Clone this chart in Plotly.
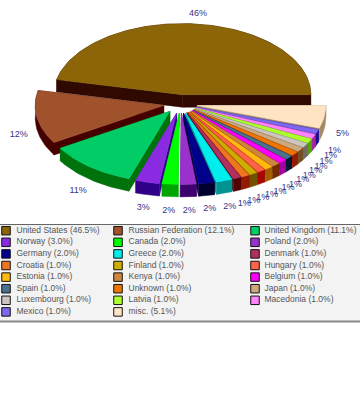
import math
import plotly.graph_objects as go

names = ["United States", "Russian Federation", "United Kingdom", "Norway", "Canada", "Poland",
         "Germany", "Greece", "Denmark", "Croatia", "Finland", "Hungary", "Estonia", "Kenya",
         "Belgium", "Spain", "Unknown", "Japan", "Luxembourg", "Latvia", "Macedonia", "Mexico", "misc."]
values = [46.5, 12.1, 11.1, 3.0, 2.0, 2.0, 2.0, 2.0, 1.0, 1.0, 1.0, 1.0, 1.0, 1.0,
          1.0, 1.0, 1.0, 1.0, 1.0, 1.0, 1.0, 1.0, 5.1]
colors = ["#8B6508", "#A0522D", "#00CD66", "#8A2BE2", "#00FF00", "#9932CC", "#00008B", "#00EEEE",
          "#B03060", "#EE7621", "#CDAD00", "#FF6347", "#FFB90F", "#CD853F", "#FF00FF", "#4A708B",
          "#EE7600", "#CDAA7D", "#CDC5BF", "#ADFF2F", "#FF83FA", "#7B68EE", "#FFE4C4"]

CX, CY, RX, RY, EXPLODE, DEPTH = 180.5, 104, 128.5, 71, 17, 12.5
LBL_RX, LBL_RY, LBL_DROP = 164, 91, 15.5


def darker(c):
    return "#" + "".join(f"{max(int(c[i:i+2], 16) - 91, 0):02X}" for i in (1, 3, 5))


total = sum(values)
slices, start = [], 0.0
for n, v, c in zip(names, values, colors):
    sweep = 360 * v / total
    slices.append((n, v, c, start, start + sweep))
    start += sweep

fig = go.Figure()


def poly(x, y, c, name=None):
    fig.add_trace(go.Scatter(x=x, y=y, mode="lines", fill="toself", fillcolor=c, name=name,
                             line=dict(width=0.5, color=c), showlegend=False,
                             hoverinfo="name" if name else "skip"))


for n, v, c, a0, a1 in sorted(slices, key=lambda s: -math.sin(math.radians((s[3] + s[4]) / 2))):
    mid = math.radians((a0 + a1) / 2)
    tx = CX + EXPLODE * math.cos(mid)
    ty = CY - EXPLODE * RY / RX * math.sin(mid)
    steps = max(2, int((a1 - a0) / 1.5))
    angs = [math.radians(a0 + (a1 - a0) * i / steps) for i in range(steps + 1)]
    ax = [tx + RX * math.cos(a) for a in angs]
    ay = [ty - RY * math.sin(a) for a in angs]
    wall = darker(c)
    for ex, ey in ((ax[0], ay[0]), (ax[-1], ay[-1])):
        poly([tx, ex, ex, tx, tx], [ty, ey, ey + DEPTH, ty + DEPTH, ty], wall)
    poly(ax + ax[::-1], ay + [y + DEPTH for y in ay[::-1]], wall)
    poly([tx] + ax + [tx], [ty] + ay + [ty], c, n)

# percentage labels around the pie
lx, ly, lt = [], [], []
for n, v, c, a0, a1 in slices:
    mid = math.radians((a0 + a1) / 2)
    lx.append(CX + LBL_RX * math.cos(mid))
    ly.append(CY - LBL_RY * math.sin(mid) + (LBL_DROP if math.sin(mid) < 0 else 0))
    lt.append(f"{int(v)}%")
fig.add_trace(go.Scatter(x=lx, y=ly, text=lt, mode="text", hoverinfo="skip", showlegend=False,
                         textfont=dict(family="Liberation Sans", size=9, color="#333388")))

# legend panel
COL_SWATCH = [6, 118, 255]
COL_TEXT = [16.5, 128.5, 264.5]
ROW0, ROW_STEP = 230.7, 11.6
sx, sy, tx_, ty_, tt = [], [], [], [], []
for i, (n, v) in enumerate(zip(names, values)):
    r, col = divmod(i, 3)
    y = ROW0 + r * ROW_STEP
    sx.append(COL_SWATCH[col]); sy.append(y)
    tx_.append(COL_TEXT[col]); ty_.append(y)
    tt.append(f"{n} ({v:.1f}%)")
fig.add_shape(type="rect", x0=-2, x1=362, y0=224.5, y1=321.5, fillcolor="#F3F3F3",
              line=dict(color="#666666", width=1), layer="below")
fig.add_shape(type="line", x0=0, x1=360, y0=321.5, y1=321.5, line=dict(color="#888888", width=2))
fig.add_trace(go.Scatter(x=sx, y=sy, mode="markers", hoverinfo="skip", showlegend=False,
                         marker=dict(symbol="square", size=8.5, color=colors, line=dict(color="#111111", width=1))))
fig.add_trace(go.Scatter(x=tx_, y=ty_, text=tt, mode="text", textposition="middle right", hoverinfo="skip",
                         showlegend=False, textfont=dict(family="Liberation Sans", size=8.5, color="#555555")))

fig.update_layout(width=360, height=400, margin=dict(l=0, r=0, t=0, b=0), paper_bgcolor="white",
                  plot_bgcolor="white", showlegend=False,
                  xaxis=dict(range=[0, 360], visible=False, fixedrange=True),
                  yaxis=dict(range=[400, 0], visible=False, fixedrange=True))
fig.write_html("out.html", config={"displayModeBar": False},
               post_script="document.body.style.margin='0';document.documentElement.style.overflow='hidden';")
